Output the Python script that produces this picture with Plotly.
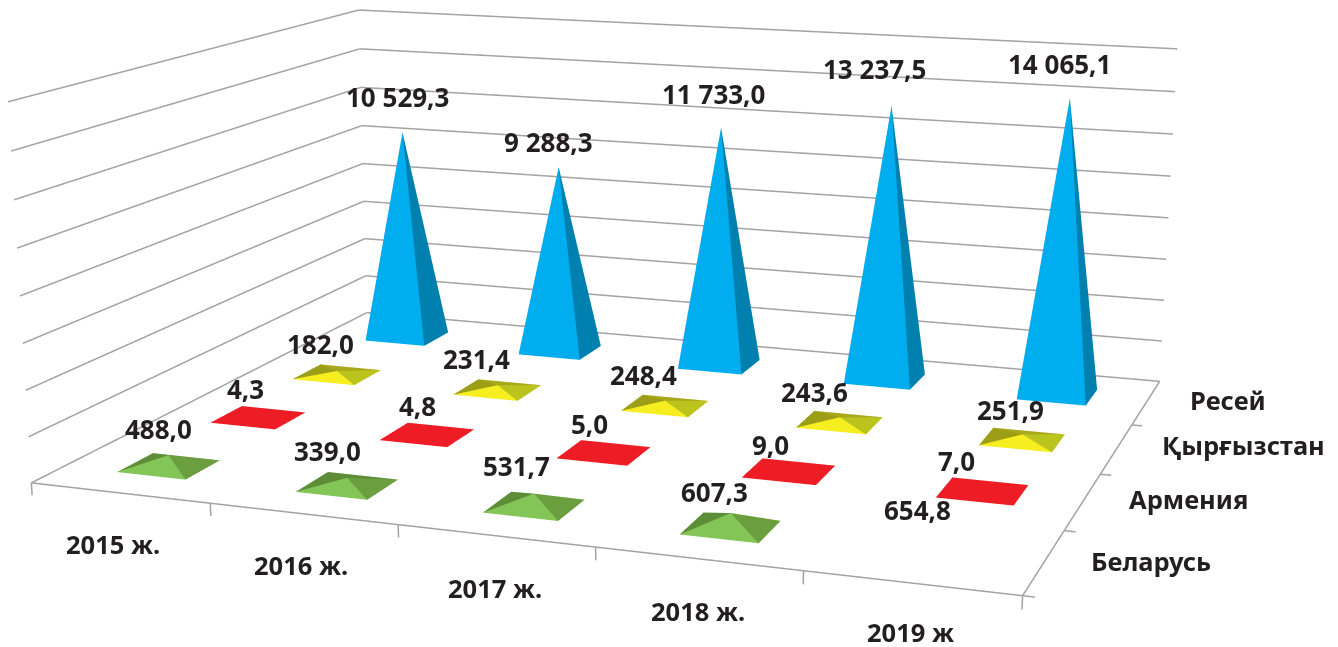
import plotly.graph_objects as go

years = ["2015 ж.", "2016 ж.", "2017 ж.", "2018 ж.", "2019 ж"]
countries = ["Беларусь", "Армения", "Қырғызстан", "Ресей"]
belarus = [488.0, 339.0, 531.7, 607.3, 654.8]
armenia = [4.3, 4.8, 5.0, 9.0, 7.0]
kyrgyz = [182.0, 231.4, 248.4, 243.6, 251.9]
russia = [10529.3, 9288.3, 11733.0, 13237.5, 14065.1]
z_ticks = list(range(0, 16001, 2000))

# Camera fitted to the reference (box: x 0-5, y 0-4, z 0-16000)
AX, AY, AZ = 2.0, 1.5527, 0.7641
EYE = (1.8303, -5.1124, 1.1694)
CENTER = (0.4737, -1.1288, 0.0507)
UP = (0.0727, -0.2254, 1)
WID, HGT, TOP_CROP = 1350, 2182, 711
WX, WY = 0.1939, 0.1844
Z_LOW, X_HIGH = -600, 5.25

def fmt(v):
    return f"{v:,.1f}".replace(",", " ").replace(".", ",")

def pyr(i, j, v, cols):
    X = [i+.5-WX, i+.5+WX, i+.5+WX, i+.5-WX, i+.5]
    Y = [j+.5-WY, j+.5-WY, j+.5+WY, j+.5+WY, j+.5]
    Z = [0, 0, 0, 0, v]
    return go.Mesh3d(x=X, y=Y, z=Z, i=[0, 1, 2, 3], j=[1, 2, 3, 0], k=[4, 4, 4, 4], facecolor=cols, flatshading=True,
                     lighting=dict(ambient=1, diffuse=0, specular=0, fresnel=0), hoverinfo="skip")

VAL_FONT = dict(family="Noto Sans", size=26, color="#231F20", weight=700)
AXIS_FONT = dict(family="Noto Sans", size=25.5, color="#231F20", weight=700)

series = [
    (belarus, ["#83C557", "#6A9E3E", "#5E8D38", "#5E8D38"], [(-10, 26), (-20, 27), (-18, 28), (-16, 21), (-20, 24)]),
    (armenia, ["#EE1C25"]*4, [(-13, 28), (-10, 29), (-14, 29), (-18, 26), (-26, 30)]),
    (kyrgyz, ["#F7EE22", "#BBC31D", "#A9A81A", "#9C9E17"], [(-16, 27), (-21, 26), (-21, 26), (-25, 25), (-12, 24)]),
    (russia, ["#00AEEF", "#0080AE", "#0080AE", "#0080AE"], [(-5, 35), (-10, 25), (-8, 34), (-17, 37), (-10, 34)]),
]
year_shift = [(-7, -51), (-2, -51), (-1, -52), (0, -52), (-1, -49)]
country_shift = [(45, 1), (44, 3), (43, 4), (42, 3)]

fig = go.Figure()
ann = []
for j, (vals, cols, shifts) in enumerate(series):
    for i, v in enumerate(vals):
        if not (j == 0 and i == 4):  # the reference draws no pyramid for this value
            fig.add_trace(pyr(i, j, v, cols))
        ann.append(dict(x=i+.5, y=j+.5, z=v, text=fmt(v), showarrow=False,
                        xshift=shifts[i][0], yshift=shifts[i][1], font=VAL_FONT))
for i, t in enumerate(years):
    ann.append(dict(x=i+.5, y=0, z=0, text=t, showarrow=False, xshift=year_shift[i][0], yshift=year_shift[i][1], font=AXIS_FONT))
for j, t in enumerate(countries):
    ann.append(dict(x=5, y=j+.5, z=0, text=t, showarrow=False, xanchor="left",
                    xshift=country_shift[j][0], yshift=country_shift[j][1], font=AXIS_FONT))

LX, LY, LZ = [], [], []
def seg(xs, ys, zs):
    LX.extend(list(xs)+[None]); LY.extend(list(ys)+[None]); LZ.extend(list(zs)+[None])
for z in z_ticks:
    seg([0, 0, 5], [0, 4, 4], [z, z, z])
seg([0, 5, 5], [0, 0, 4], [0, 0, 0])
for i in range(len(years)+1):
    seg([i, i], [0, 0], [0, -540])
for j in range(len(countries)):
    seg([5, 5.055], [j, j], [0, 0])
fig.add_trace(go.Scatter3d(x=LX, y=LY, z=LZ, mode="lines", line=dict(color="#A3A3A3", width=3), hoverinfo="skip"))

off = dict(visible=False, showspikes=False)
az2 = AZ*(16000-Z_LOW)/16000
ax2 = AX*X_HIGH/5
dx = -AX*(X_HIGH-5)/5/2
dz = AZ*(-Z_LOW)/16000/2
fig.update_layout(
    width=WID, height=HGT, margin=dict(l=0, r=0, t=0, b=0), showlegend=False, paper_bgcolor="white",
    scene=dict(
        domain=dict(x=[0, 1], y=[0, 1]), aspectmode="manual", aspectratio=dict(x=ax2, y=AY, z=az2),
        camera=dict(eye=dict(x=EYE[0]+dx, y=EYE[1], z=EYE[2]+dz), center=dict(x=CENTER[0]+dx, y=CENTER[1], z=CENTER[2]+dz),
                    up=dict(x=UP[0], y=UP[1], z=UP[2]), projection=dict(type="perspective")),
        annotations=ann,
        xaxis=dict(range=[0, X_HIGH], **off), yaxis=dict(range=[0, 4], **off), zaxis=dict(range=[Z_LOW, 16000], **off),
    ),
)
fig.write_html("out.html", config=dict(displayModeBar=False),
               post_script=f"document.documentElement.style.overflow='hidden';document.body.style.overflow='hidden';document.body.style.margin='-{TOP_CROP}px 0 0 0';")
